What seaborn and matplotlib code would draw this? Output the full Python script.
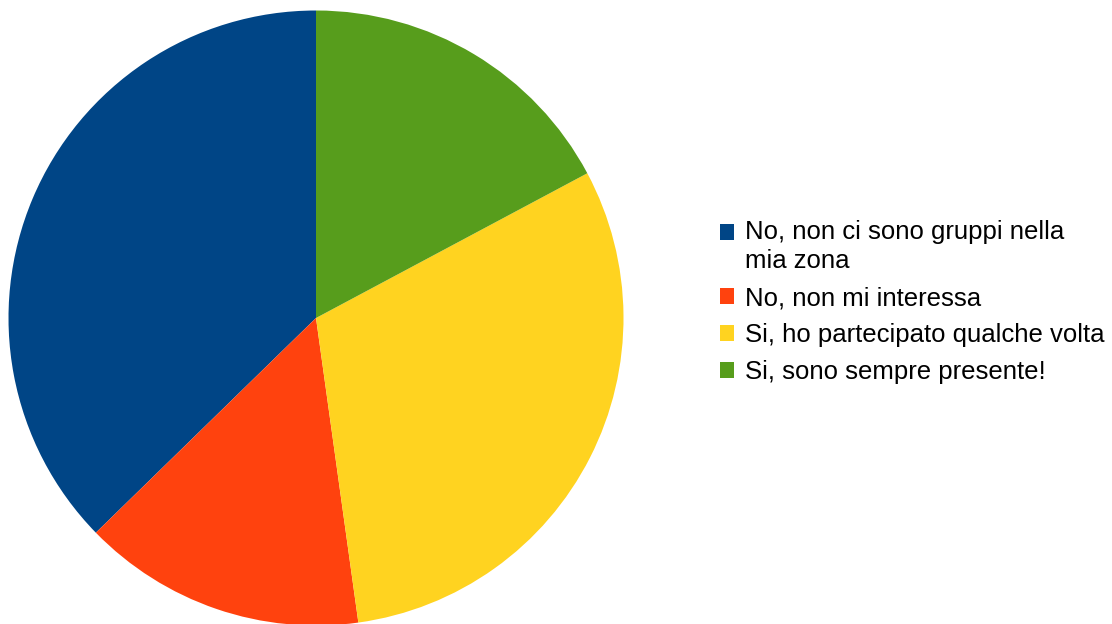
import matplotlib
matplotlib.use("Agg")
import matplotlib.pyplot as plt
import seaborn as sns
from matplotlib.patches import Patch, Rectangle
from matplotlib.legend_handler import HandlerPatch

categories = ["No, non ci sono gruppi nella\nmia zona",
              "No, non mi interessa",
              "Si, ho partecipato qualche volta",
              "Si, sono sempre presente!"]
values = [37.3, 14.9, 30.6, 17.2]
colors = ["#004586", "#ff420e", "#ffd320", "#579d1c"]

sns.set_theme(style="white")
plt.rcParams['font.family'] = ['Liberation Sans', 'DejaVu Sans']


class ShiftedSquare(HandlerPatch):
    def __init__(self, dy=0.0):
        super().__init__()
        self.dy = dy

    def create_artists(self, legend, orig_handle, xdescent, ydescent,
                       width, height, fontsize, trans):
        p = Rectangle((-xdescent, -ydescent + self.dy), width, height,
                      facecolor=orig_handle.get_facecolor(),
                      edgecolor='none', transform=trans)
        return [p]


W, H = 1112, 624
fig = plt.figure(figsize=(W / 100, H / 100), dpi=100)
cx, cy, r = 316, 318, 307.5
ax = fig.add_axes([(cx - r) / W, (H - cy - r) / H, 2 * r / W, 2 * r / H])
ax.pie(values, colors=colors, startangle=90, counterclock=True, radius=1,
       wedgeprops=dict(linewidth=0), frame=False)
ax.set_xlim(-1, 1)
ax.set_ylim(-1, 1)
ax.set_aspect('equal')
ax.axis('off')

handles = [Patch(facecolor=c, edgecolor='none') for c in colors]
hmap = {handles[0]: ShiftedSquare(dy=10.8)}
leg = fig.legend(handles, categories, loc='upper left',
                 bbox_to_anchor=(720 / W, (H - 220) / H), frameon=False,
                 fontsize=18.5, handlelength=0.55, handleheight=0.55,
                 handletextpad=0.42, labelspacing=0.5, borderpad=0,
                 borderaxespad=0, labelcolor='black', handler_map=hmap)
for t in leg.get_texts():
    t.set_linespacing(1.28)
fig.savefig("out.png", dpi=100)
